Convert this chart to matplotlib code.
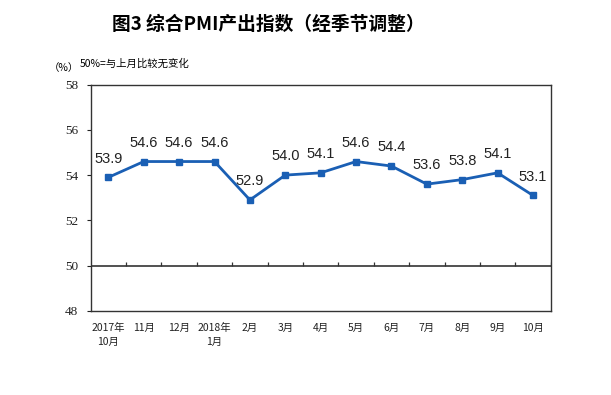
import matplotlib
matplotlib.use("Agg")
import matplotlib.pyplot as plt
import numpy as np

plt.rcParams['font.family'] = ['Noto Sans CJK SC', 'DejaVu Sans']

categories = ['2017年\n10月', '11月', '12月', '2018年\n1月', '2月', '3月', '4月',
              '5月', '6月', '7月', '8月', '9月', '10月']
values = [53.9, 54.6, 54.6, 54.6, 52.9, 54.0, 54.1, 54.6, 54.4, 53.6, 53.8, 54.1, 53.1]
yticks = [48, 50, 52, 54, 56, 58]

fig = plt.figure(figsize=(6.11, 3.95), dpi=100)
ax = fig.add_axes([0.1484, 0.2134, 0.7529, 0.5722])

x = np.arange(len(categories))
color = '#1a5fb4'
ax.plot(x, values, color=color, lw=2, marker='s', ms=4.5, mec=color, mfc=color, zorder=3)

for xi, v in zip(x, values):
    ax.annotate(f'{v:.1f}', (xi, v), xytext=(0, 13.5), textcoords='offset points',
                ha='center', va='center', fontsize=10.5, family='Liberation Sans', color='#222222')

ax.set_xlim(-0.5, len(categories) - 0.5)
ax.set_ylim(48, 58)
ax.set_yticks(yticks)
ax.set_yticklabels([str(t) for t in yticks], family='Liberation Serif', fontsize=9.5)
ax.tick_params(axis='y', direction='out', length=3, width=0.8, pad=6, colors='#222222')

ax.set_xticks(x)
ax.set_xticklabels(categories, fontsize=7.5, linespacing=1.5)
ax.tick_params(axis='x', length=0, pad=9, colors='#222222')

# baseline at 50 with boundary ticks
ax.axhline(50, color='#333333', lw=1.2, zorder=2)
bounds = np.arange(len(categories)) + 0.5
ax.vlines(bounds, 50, 50.15, color='#333333', lw=0.9, zorder=2)

for sp in ax.spines.values():
    sp.set_color('#333333')
    sp.set_linewidth(1.0)

fig.text(0.439, 0.937, '图3 综合PMI产出指数（经季节调整）', ha='center', va='center',
         fontsize=13.5, fontweight='bold')
fig.text(0.080, 0.828, '（%）', ha='left', va='center', fontsize=7.5)
fig.text(0.131, 0.84, '50%=与上月比较无变化', ha='left', va='center', fontsize=7.5)

fig.savefig('out.png', dpi=100)
